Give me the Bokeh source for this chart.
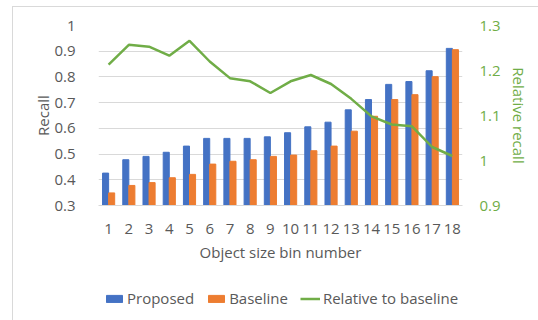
from bokeh.plotting import figure
from bokeh.layouts import column
from bokeh.models import (ColumnDataSource, Range1d, LinearAxis, FixedTicker,
                          CustomJSTickFormatter, Legend, LegendItem)
from bokeh.transform import dodge
from bokeh.embed import file_html
from bokeh.resources import INLINE

# Recall per object size bin
bins = list(range(1, 19))
proposed = [0.426, 0.478, 0.491, 0.507, 0.531, 0.561, 0.561, 0.561, 0.567,
            0.583, 0.606, 0.624, 0.672, 0.712, 0.771, 0.782, 0.824, 0.911]
baseline = [0.349, 0.378, 0.389, 0.408, 0.421, 0.461, 0.472, 0.478, 0.491,
            0.496, 0.513, 0.531, 0.589, 0.647, 0.712, 0.731, 0.801, 0.906]
relative = [1.213, 1.257, 1.253, 1.233, 1.266, 1.220, 1.183, 1.176, 1.150,
            1.176, 1.190, 1.170, 1.137, 1.098, 1.080, 1.076, 1.030, 1.010]

recall_ticks = [0.3, 0.4, 0.5, 0.6, 0.7, 0.8, 0.9, 1.0]
relative_ticks = [0.9, 1.0, 1.1, 1.2, 1.3]

series_names = ["Proposed", "Baseline", "Relative to baseline"]

FONT = "Open Sans"
TEXT = "#595959"
GRID = "#d9d9d9"
BLUE = "#4472C4"
ORANGE = "#ED7D31"
GREEN = "#70AD47"
FS = "15px"

src = ColumnDataSource(dict(bin=bins, proposed=proposed, baseline=baseline,
                            relative=relative))

p = figure(width=525, height=262,
           x_range=Range1d(0.5, 18.5), y_range=Range1d(0.3, 1.0),
           output_backend="svg", toolbar_location=None,
           min_border_left=85, min_border_right=76,
           min_border_top=18, min_border_bottom=64)
p.outline_line_color = None
p.background_fill_color = "white"
p.border_fill_color = "white"

p.extra_y_ranges = {"rel": Range1d(0.9, 1.3)}

one_decimal = CustomJSTickFormatter(code="return String(Math.round(tick * 10) / 10);")

# left axis
yax = p.yaxis[0]
yax.ticker = FixedTicker(ticks=recall_ticks)
yax.formatter = one_decimal
yax.axis_line_color = None
yax.major_tick_line_color = None
yax.minor_tick_line_color = None
yax.major_label_standoff = 17
yax.major_label_text_font = FONT
yax.major_label_text_font_size = FS
yax.major_label_text_color = TEXT
yax.axis_label = "Recall"
yax.axis_label_text_font = FONT
yax.axis_label_text_font_size = FS
yax.axis_label_text_font_style = "normal"
yax.axis_label_text_color = TEXT
yax.axis_label_standoff = -2

# right axis
rax = LinearAxis(y_range_name="rel", ticker=FixedTicker(ticks=relative_ticks),
                 formatter=one_decimal)
rax.axis_line_color = None
rax.major_tick_line_color = None
rax.minor_tick_line_color = None
rax.major_label_standoff = 11
rax.major_label_text_font = FONT
rax.major_label_text_font_size = FS
rax.major_label_text_color = GREEN
rax.axis_label = "Relative recall"
rax.axis_label_text_font = FONT
rax.axis_label_text_font_size = FS
rax.axis_label_text_font_style = "normal"
rax.axis_label_text_color = GREEN
rax.axis_label_standoff = 5
p.add_layout(rax, "right")

# bottom axis
xax = p.xaxis[0]
xax.ticker = FixedTicker(ticks=bins)
xax.axis_line_color = GRID
xax.major_tick_line_color = None
xax.minor_tick_line_color = None
xax.major_label_standoff = 12
xax.major_label_text_font = FONT
xax.major_label_text_font_size = FS
xax.major_label_text_color = TEXT
xax.axis_label = "Object size bin number"
xax.axis_label_text_font = FONT
xax.axis_label_text_font_size = FS
xax.axis_label_text_font_style = "normal"
xax.axis_label_text_color = TEXT
xax.axis_label_standoff = 5

p.xgrid.grid_line_color = None
p.ygrid.grid_line_color = GRID
p.ygrid.ticker = FixedTicker(ticks=recall_ticks)

p.vbar(x=dodge("bin", -0.15, range=p.x_range), top="proposed",
       width=0.3, source=src, color=BLUE)
p.vbar(x=dodge("bin", 0.15, range=p.x_range), top="baseline",
       width=0.3, source=src, color=ORANGE)
p.line(x="bin", y="relative", y_range_name="rel", source=src,
       color=GREEN, line_width=2.5)

# legend strip under the chart; its sample glyphs sit outside the visible range
leg = figure(width=525, height=51, x_range=Range1d(0, 1), y_range=Range1d(0, 1),
             output_backend="svg", toolbar_location=None,
             x_axis_location=None, y_axis_location=None,
             min_border_left=0, min_border_right=0,
             min_border_top=0, min_border_bottom=0)
leg.grid.grid_line_color = None
leg.outline_line_color = None
leg.background_fill_color = "white"
leg.border_fill_color = "white"
offscreen = ColumnDataSource(dict(x=[-5.0, -4.0], y=[-5.0, -4.0]))
k_prop = leg.vbar(x="x", top="y", width=0.1, source=offscreen, color=BLUE)
k_base = leg.vbar(x="x", top="y", width=0.1, source=offscreen, color=ORANGE)
k_rel = leg.line(x="x", y="y", source=offscreen, color=GREEN, line_width=2.5)

legend = Legend(items=[LegendItem(label=series_names[0], renderers=[k_prop]),
                       LegendItem(label=series_names[1], renderers=[k_base]),
                       LegendItem(label=series_names[2], renderers=[k_rel])],
                orientation="horizontal", location=(6, 12),
                glyph_width=20, glyph_height=9, label_standoff=3, spacing=12,
                label_text_font=FONT, label_text_font_size=FS,
                label_text_color=TEXT, border_line_color=None,
                background_fill_alpha=0, padding=0, margin=0)
leg.add_layout(legend)

layout = column(p, leg, spacing=0,
                styles={"margin-left": "12px", "margin-top": "6px",
                        "border-top": "1px solid #d9d9d9",
                        "border-left": "1px solid #d9d9d9"})

open("out.html", "w").write(file_html(layout, INLINE))
